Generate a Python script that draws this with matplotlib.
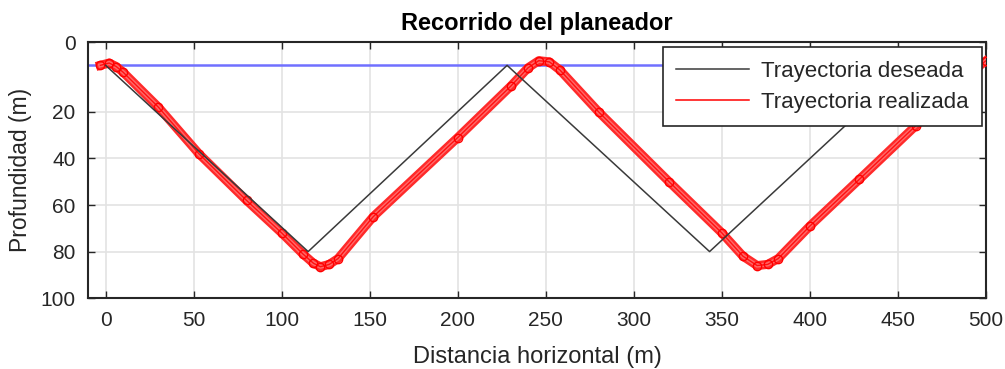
import matplotlib
matplotlib.use('Agg')
from matplotlib import pyplot as plt
import matplotlib.patheffects as pe

plt.rcParams['font.family'] = ['Liberation Sans', 'DejaVu Sans']

# trayectoria deseada (vertices del diente de sierra)
x_deseada = [0, 115, 228, 343, 457]
z_deseada = [0, 80, 0, 80, 0]

# trayectoria realizada por el planeador
x_real = [-3, 2, 6, 10, 30, 53, 80, 100, 112, 118, 122, 127, 132, 152, 200, 230,
          240, 246, 252, 258, 280, 320, 350, 362, 370, 376, 382, 400, 428, 460,
          485, 495, 500]
z_real = [0, -1, 0.5, 3, 18, 38, 58, 72, 81, 85, 86.5, 85.5, 83, 65, 31, 9,
          1, -2, -1.5, 2, 20, 50, 72, 82, 86, 85.5, 83, 69, 49, 26,
          8, 1, -2]

# superficie
x_superficie = [-10, 500]
z_superficie = [0, 0]

x_ticks = [0, 50, 100, 150, 200, 250, 300, 350, 400, 450, 500]
y_ticks = [-10, 20, 40, 60, 80, 100]
y_tick_labels = ['0', '20', '40', '60', '80', '100']

fig = plt.figure(figsize=(10.05, 3.69), dpi=100)
ax = fig.add_axes([0.0876, 0.192, 0.8935, 0.694])

ax.plot(x_superficie, z_superficie, color='#7070ff', linewidth=1.8, zorder=2)

band = [pe.Stroke(linewidth=6.5, foreground='#ff2a2a'),
        pe.Stroke(linewidth=3, foreground='#ff6a6a'),
        pe.Normal()]
ax.plot(x_real, z_real, color='#ff1010', linewidth=1, path_effects=band, zorder=3)
ax.plot(x_real, z_real, linestyle='none', marker='o', markersize=6,
        markerfacecolor='none', markeredgecolor='red', markeredgewidth=1, zorder=3)

l_des, = ax.plot(x_deseada, z_deseada, color='#3a3a3a', linewidth=1.1, zorder=4)
l_real, = ax.plot([], [], color='red', linewidth=1.1)

ax.set_xlim(-10, 500)
ax.set_ylim(100, -10)
ax.set_xticks(x_ticks)
ax.set_yticks(y_ticks)
ax.set_yticklabels(y_tick_labels)
ax.tick_params(direction='in', length=5, width=1, labelsize=15, colors='#262626',
               top=True, right=True, pad=9)
ax.grid(True, color='#e3e3e3', linewidth=1.2)
ax.set_axisbelow(True)
for s in ax.spines.values():
    s.set_color('#262626')
    s.set_linewidth(1.5)

ax.set_title('Recorrido del planeador', fontsize=17, fontweight='bold', pad=9)
ax.set_xlabel('Distancia horizontal (m)', fontsize=17, color='#262626', labelpad=12)
ax.set_ylabel('Profundidad (m)', fontsize=16.5, color='#262626', labelpad=6)

leg = ax.legend([l_des, l_real], ['Trayectoria deseada', 'Trayectoria realizada'],
                loc='upper right', bbox_to_anchor=(0.995, 0.98), borderaxespad=0,
                fontsize=16, handlelength=3.3, handletextpad=0.5, fancybox=False,
                framealpha=1, edgecolor='#262626', borderpad=0.6, labelspacing=0.45)
leg.get_frame().set_linewidth(1.2)
for t in leg.get_texts():
    t.set_color('#262626')

fig.savefig('out.png', dpi=100)
